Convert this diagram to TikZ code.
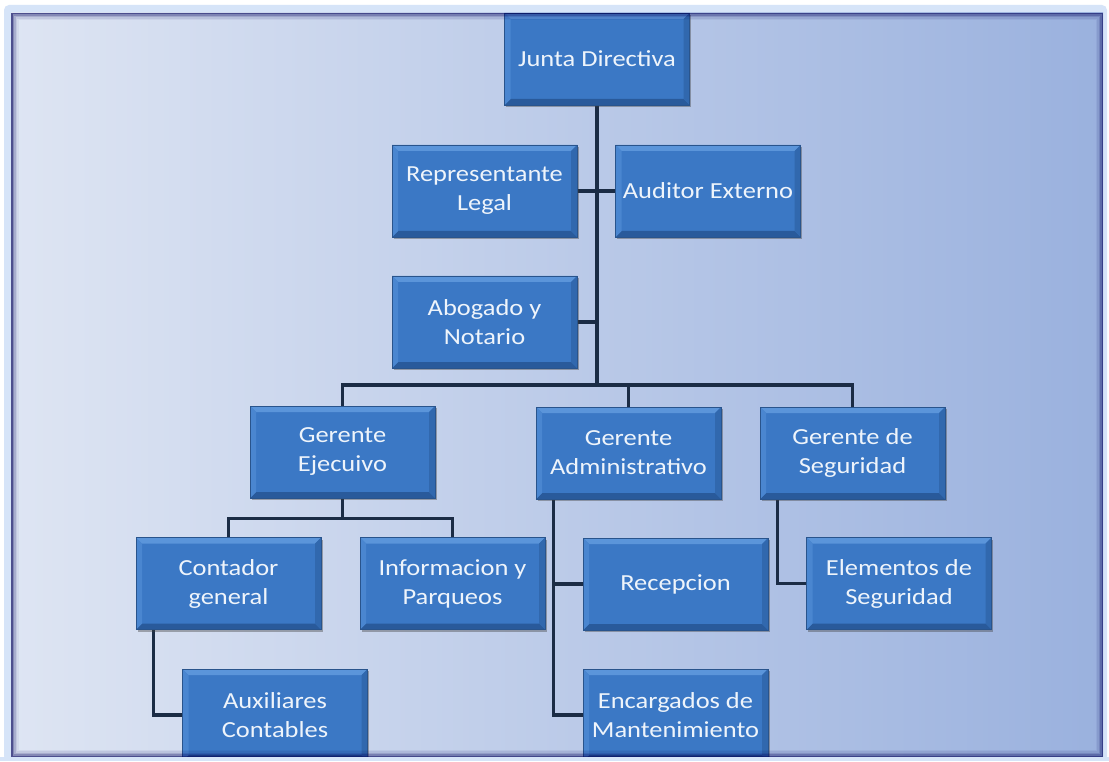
\documentclass[tikz,border=0pt]{standalone}
\usepackage{fontspec}
\setmainfont{Carlito}[FakeStretch=1.15]
\usetikzlibrary{shadows}
\definecolor{fondoizq}{HTML}{DEE5F3}
\definecolor{fondoder}{HTML}{9AB1DE}
\definecolor{brillo}{HTML}{D6E4F8}
\definecolor{cajaazul}{HTML}{3B78C5}
\definecolor{cajaborde}{HTML}{29548C}
\definecolor{biselsup}{HTML}{5B95DA}
\definecolor{biselizq}{HTML}{4A86D0}
\definecolor{biselder}{HTML}{3168AE}
\definecolor{biselinf}{HTML}{295A9B}
\definecolor{linea}{HTML}{1B2C45}
\definecolor{textocaja}{HTML}{EEF4FB}
\pgfdeclarelayer{fondo}
\pgfdeclarelayer{lineas}
\pgfsetlayers{fondo,lineas,main}
\begin{document}
\begin{tikzpicture}[x=1pt,y=-1pt,
  cargo/.style={minimum width=185pt, minimum height=92pt, inner sep=2pt, align=center,
    text=textocaja, font=\fontsize{23}{29}\selectfont, fill=cajaazul, draw=cajaborde, line width=0.8pt,
    drop shadow={shadow xshift=1.5pt, shadow yshift=-2pt, opacity=0.4, fill=black!75},
    path picture={
      \fill[biselsup] (path picture bounding box.north west) -- (path picture bounding box.north east)
        -- ([xshift=-6pt,yshift=-6pt]path picture bounding box.north east) -- ([xshift=6pt,yshift=-6pt]path picture bounding box.north west) -- cycle;
      \fill[biselinf] (path picture bounding box.south west) -- (path picture bounding box.south east)
        -- ([xshift=-6pt,yshift=6pt]path picture bounding box.south east) -- ([xshift=6pt,yshift=6pt]path picture bounding box.south west) -- cycle;
      \fill[biselizq] (path picture bounding box.north west) -- (path picture bounding box.south west)
        -- ([xshift=6pt,yshift=6pt]path picture bounding box.south west) -- ([xshift=6pt,yshift=-6pt]path picture bounding box.north west) -- cycle;
      \fill[biselder] (path picture bounding box.north east) -- (path picture bounding box.south east)
        -- ([xshift=-6pt,yshift=6pt]path picture bounding box.south east) -- ([xshift=-6pt,yshift=-6pt]path picture bounding box.north east) -- cycle;
    }},
  enlace/.style={draw=linea, line width=3.5pt}]
  \useasboundingbox (0,0) rectangle (1109,762);
  \begin{pgfonlayer}{fondo}
    \fill[white] (0,0) rectangle (1109,762);
    \fill[brillo, rounded corners=5pt] (4,5) rectangle (1107,761);
    \shade[left color=fondoizq, right color=fondoder] (11,13) rectangle (1103,757);
  \end{pgfonlayer}

  \node[cargo] (junta) at (597,59) {Junta Directiva};
  \node[cargo] (repr) at (484.5,191) {Representante\\Legal};
  \node[cargo] (audit) at (708,191) {Auditor Externo};
  \node[cargo] (abog) at (484.5,322) {Abogado y\\Notario};
  \node[cargo] (gejec) at (342.5,452) {Gerente\\Ejecuivo};
  \node[cargo] (gadmin) at (628.5,453) {Gerente\\Administrativo};
  \node[cargo] (gseg) at (852.5,453) {Gerente de\\Seguridad};
  \node[cargo] (contador) at (228.5,583.5) {Contador\\general};
  \node[cargo] (info) at (452.5,583.5) {Informacion y\\Parqueos};
  \node[cargo] (recep) at (675.5,584) {Recepcion};
  \node[cargo] (elem) at (899,583.5) {Elementos de\\Seguridad};
  \node[cargo] (aux) at (275,715) {Auxiliares\\Contables};
  \node[cargo] (encarg) at (675.5,715) {Encargados de\\Mantenimiento};

  \coordinate (bus) at (597,385);
  \coordinate (ramacont) at ([xshift=18pt]contador.south west);
  \coordinate (ramaadmin) at ([xshift=18pt]gadmin.south west);
  \coordinate (ramaseg) at ([xshift=18pt]gseg.south west);
  \begin{pgfonlayer}{lineas}
    \draw[enlace] (junta.south) -- (bus);
    \draw[enlace] (repr.east) -- (audit.west);
    \draw[enlace] (abog.east) -- (abog.east -| bus);
    \draw[enlace] (gejec.north) |- (bus) -| (gseg.north);
    \draw[enlace] (gadmin.north) -- (gadmin.north |- bus);
    \draw[enlace] (gejec.south) -- ++(0,20) coordinate (busejec);
    \draw[enlace] (contador.north) |- (busejec) -| (info.north);
    \draw[enlace] (ramacont) |- (aux.west);
    \draw[enlace] (ramaadmin) |- (encarg.west);
    \draw[enlace] (ramaadmin |- recep.west) -- (recep.west);
    \draw[enlace] (ramaseg) |- (elem.west);
  \end{pgfonlayer}

  \fill[brillo] (0,757) rectangle (1109,761);
  \fill[white] (0,761) rectangle (1109,762);
  \foreach \d/\o in {0/0.65,1.5/0.4,3/0.24,4.5/0.12,6/0.05}
    \draw[black!65!blue, opacity=\o, line width=1.5pt] (11.75+\d,13.75+\d) rectangle (1102.25-\d,756.25-\d);
\end{tikzpicture}
\end{document}
